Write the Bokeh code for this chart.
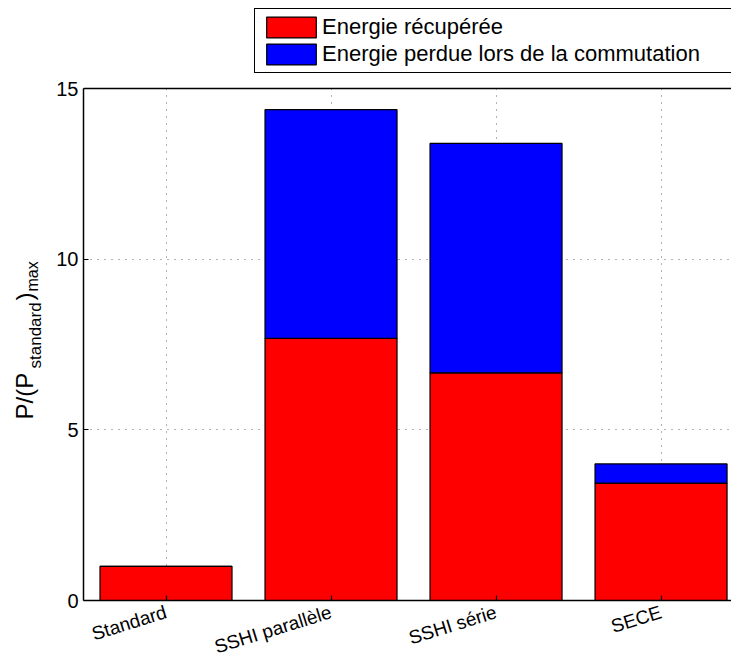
from bokeh.plotting import figure
from bokeh.layouts import row
from bokeh.models import (Range1d, FixedTicker, Legend, LegendItem, Span,
                          BoxAnnotation, ColumnDataSource)
from bokeh.core.properties import value
from bokeh.embed import file_html
from bokeh.resources import INLINE
import math

categories = ["Standard", "SSHI parallèle", "SSHI série", "SECE"]
positions = [1, 2, 3, 4]
recovered = [1.0, 7.68, 6.67, 3.44]
lost = [0.0, 6.70, 6.72, 0.56]
y_ticks = [0, 5, 10, 15]
series_labels = ["Energie récupérée", "Energie perdue lors de la commutation"]

FONT = "Liberation Sans"
H = 670
BOTTOM = 70
Y_TOP = 15
# the frame reaches the top of the canvas; 15 sits 88 px below it (600 px frame)
Y_END = Y_TOP * 600 / 512

src = ColumnDataSource(dict(x=positions, recovered=recovered, lost=lost))

p = figure(width=686, height=H, x_range=Range1d(0.5, 4.427), y_range=Range1d(0, Y_END),
           output_backend="svg", toolbar_location=None,
           min_border_left=38, min_border_top=0, min_border_right=0,
           min_border_bottom=BOTTOM)
p.outline_line_color = None

p.xgrid.ticker = FixedTicker(ticks=positions)
p.ygrid.ticker = FixedTicker(ticks=y_ticks)
for g in (p.xgrid[0], p.ygrid[0]):
    g.grid_line_color = "#666666"
    g.grid_line_dash = "1 6"
    g.grid_line_width = 1

p.add_layout(BoxAnnotation(bottom=Y_TOP, fill_color="white", fill_alpha=1,
                           line_color=None, level="underlay"))

rs = p.vbar_stack(["recovered", "lost"], x="x", width=0.8, source=src,
                  fill_color=["#ff0000", "#0000ff"], line_color="black",
                  line_width=1.2)

for ax in (p.xaxis[0], p.yaxis[0]):
    ax.axis_line_width = 1.5
    ax.major_tick_in = 5
    ax.major_tick_out = 0
    ax.major_tick_line_width = 1.2
    ax.minor_tick_line_color = None
    ax.major_label_text_font = FONT
    ax.major_label_text_font_size = "20px"
    ax.major_label_text_color = "black"

p.xaxis.ticker = FixedTicker(ticks=positions)
p.xaxis.major_label_overrides = {x: c for x, c in zip(positions, categories)}
p.xaxis.major_label_orientation = 0.30
p.xaxis.major_label_text_font_size = "19px"
p.xaxis.major_label_standoff = 11
p.yaxis.ticker = FixedTicker(ticks=y_ticks)
p.yaxis.bounds = (0, Y_TOP)

p.add_layout(Span(location=Y_TOP, dimension="width", line_color="black",
                  line_width=1.5))

legend = Legend(items=[LegendItem(label=series_labels[0], renderers=[rs[0]]),
                       LegendItem(label=series_labels[1], renderers=[rs[1]])],
                location=(171, 527), orientation="vertical",
                glyph_width=62, glyph_height=26, label_height=26, spacing=1,
                padding=5, label_standoff=0, label_width=415,
                label_text_font=FONT, label_text_font_size="22px",
                label_text_color="black",
                border_line_color="black", border_line_width=1, border_line_alpha=1,
                background_fill_color="white", background_fill_alpha=1, margin=0)
p.add_layout(legend, "center")

# narrow figure holding the y axis title with its subscripts; its frame
# matches the main frame (0..600 px from the top)
q = figure(width=45, height=H, x_range=Range1d(0, 45), y_range=Range1d(0, 600),
           output_backend="svg", toolbar_location=None,
           x_axis_location=None, y_axis_location=None,
           min_border_left=0, min_border_right=0, min_border_top=0,
           min_border_bottom=BOTTOM)
q.grid.visible = False
q.outline_line_color = None

# (text, baseline x, start y measured up from the frame bottom, size in px)
ylab_parts = [("P/(P", 32, 181, 24), ("standard", 41, 232, 17),
              (")", 32, 300, 24), ("max", 38, 309, 16)]
for txt, bx, sy, fs in ylab_parts:
    q.text(x=[bx - 0.35 * fs], y=[sy], text=[txt], angle=math.pi / 2,
           text_font=value(FONT), text_font_size=f"{fs}px", text_align="left",
           text_baseline="middle", text_color="black")

layout = row(q, p, spacing=0)
open("out.html", "w").write(file_html(layout, INLINE))
